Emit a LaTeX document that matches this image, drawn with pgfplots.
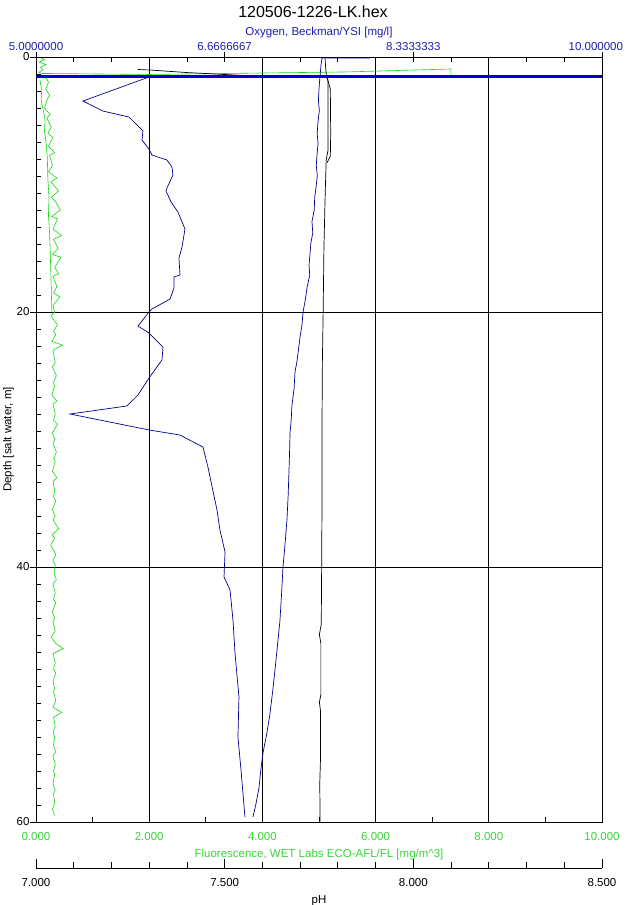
\documentclass[border=0pt]{standalone}
\usepackage{pgfplots}
\pgfplotsset{compat=1.18}
\usepackage{fontspec}
\setmainfont{Liberation Sans}
\definecolor{navy}{RGB}{0,0,140}
\definecolor{tblue}{RGB}{0,0,210}
\definecolor{trgreen}{RGB}{20,215,20}
\definecolor{lbgreen}{RGB}{60,210,60}
\definecolor{lbblue}{RGB}{30,30,170}
\begin{document}
\begin{tikzpicture}
\path[use as bounding box] (0,0) rectangle (626pt,905pt);
\pgfplotsset{every axis/.append style={font=\fontsize{11.5}{13}\selectfont}}
% ---------- main axis: fluorescence + depth ----------
\begin{axis}[
  at={(36pt,83pt)}, anchor=south west, scale only axis,
  width=566pt, height=765pt,
  xmin=0, xmax=10, ymin=0, ymax=60, y dir=reverse,
  xtick pos=bottom, ytick pos=left,
  xtick={0,2,4,6,8,10},
  xticklabels={0.000,2.000,4.000,6.000,8.000,10.000},
  minor x tick num=1,
  ytick={0,20,40,60}, yticklabels={0,20,40,60},
  minor y tick num=14,
  tick align=inside, major tick length=6pt, minor tick length=5pt,
  every major y tick/.append style={xshift=-6pt},
  grid=major, grid style={black, line width=0.8pt},
  axis line style={black, line width=0.8pt},
  tick style={black, line width=0.8pt},
  xticklabel style={text=lbgreen, yshift=-7pt},
  xlabel={Fluorescence, WET Labs ECO-AFL/FL [mg/m\textasciicircum3]},
  xlabel style={text=lbgreen, yshift=-2pt},
  yticklabel style={xshift=-3pt},
  ylabel={Depth [salt water, m]},
  ylabel style={yshift=-4pt},
  clip=true,
]
% fluorescence near surface and spike
\addplot[trgreen, line width=0.6pt] coordinates {
(0.04,0.0)(0.15,0.2)(0.06,0.4)(0.18,0.6)(0.08,0.8)(0.12,1.0)(0.05,1.2)(0.10,1.29)
(2.0,1.37)(5.5,1.17)(7.33,0.94)(7.33,1.53)(0.15,1.57)};
% fluorescence smooth trace
\addplot[trgreen, line width=0.6pt] coordinates {
(0.07,1.8)(0.10,2.6)(0.09,3.4)(0.13,4.2)(0.16,4.9)(0.15,5.8)(0.18,6.8)(0.20,7.9)
(0.21,9.6)(0.23,11.0)(0.22,12.4)(0.24,13.8)(0.25,15.1)(0.26,16.6)(0.27,18.2)(0.28,20.0)};
% fluorescence noisy trace
\addplot[trgreen, line width=0.6pt] coordinates {
(0.18,1.6)(0.22,2.0)(0.17,2.5)(0.24,3.0)(0.20,3.3)(0.15,4.0)(0.25,4.5)(0.19,4.8)
(0.27,5.5)(0.21,6.0)(0.30,6.3)(0.22,7.0)(0.33,7.5)(0.24,7.7)(0.29,8.5)(0.22,9.0)
(0.37,9.5)(0.26,9.8)(0.40,10.5)(0.27,11.0)(0.34,11.3)(0.43,12.0)(0.28,12.5)(0.38,12.7)
(0.30,13.5)(0.45,14.0)(0.31,14.3)(0.39,15.0)(0.29,15.5)(0.44,15.7)(0.33,16.5)(0.40,17.0)
(0.30,17.2)(0.37,18.0)(0.31,18.5)(0.42,18.8)(0.30,19.5)(0.33,20.0)(0.26,20.3)(0.38,21.0)
(0.31,21.5)(0.35,21.8)(0.28,22.3)(0.47,22.6)(0.30,23.0)(0.34,24.0)(0.29,24.3)(0.36,25.0)
(0.31,25.5)(0.33,25.8)(0.28,26.5)(0.37,27.0)(0.30,27.2)(0.34,28.0)(0.31,28.5)(0.38,28.8)
(0.29,29.5)(0.33,30.0)(0.30,30.3)(0.36,31.0)(0.31,31.5)(0.34,31.7)(0.29,32.5)(0.37,33.0)
(0.30,33.3)(0.33,34.0)(0.31,34.5)(0.35,34.8)(0.29,35.5)(0.34,36.0)(0.30,36.3)(0.40,37.0)
(0.28,37.5)(0.33,37.7)(0.26,38.3)(0.35,39.0)(0.30,39.5)(0.34,39.8)(0.32,40.5)(0.36,41.0)
(0.30,41.3)(0.34,42.0)(0.31,42.5)(0.35,42.8)(0.29,43.5)(0.33,44.0)(0.30,44.3)(0.34,45.0)
(0.27,45.5)(0.35,46.0)(0.48,46.4)(0.30,46.8)(0.34,47.5)(0.31,48.0)(0.35,48.3)(0.30,49.0)
(0.33,49.5)(0.31,49.8)(0.35,50.5)(0.30,51.0)(0.45,51.4)(0.31,51.8)(0.34,52.5)(0.30,53.0)
(0.33,53.3)(0.31,54.0)(0.35,54.5)(0.30,54.8)(0.34,55.5)(0.31,56.0)(0.33,56.3)(0.30,57.0)
(0.34,57.5)(0.31,57.8)(0.33,58.5)(0.29,59.0)(0.33,59.5)};
\end{axis}
% ---------- pH data (hidden axes) ----------
\begin{axis}[
  at={(36pt,83pt)}, anchor=south west, scale only axis,
  width=566pt, height=765pt,
  xmin=7, xmax=8.5, ymin=0, ymax=60, y dir=reverse,
  hide x axis, hide y axis,
]
\addplot[black, line width=0.7pt] coordinates {
(7.270,0.98)(7.302,1.02)(7.400,1.22)(7.551,1.45)(7.769,1.53)(7.774,1.8)(7.774,4.94)
(7.774,7.29)(7.769,8.08)(7.766,11.2)(7.763,15.1)(7.761,20.0)(7.759,23.8)(7.758,28.5)
(7.758,34.7)(7.757,40.0)(7.756,44.5)(7.751,45.3)(7.755,46.0)(7.755,50.0)(7.751,50.6)
(7.754,51.3)(7.754,55.0)(7.752,57.0)(7.753,60.0)};
\addplot[black, line width=0.7pt] coordinates {
(7.766,0.1)(7.768,1.0)(7.770,1.5)(7.780,2.5)(7.781,6.0)(7.780,7.8)(7.771,8.3)};
\end{axis}
% ---------- oxygen (top axis) ----------
\begin{axis}[
  at={(36pt,83pt)}, anchor=south west, scale only axis,
  width=566pt, height=765pt,
  xmin=5, xmax=10, ymin=0, ymax=60, y dir=reverse,
  axis x line*=top, hide y axis,
  xtick={5,6.6666667,8.3333333,10},
  xticklabels={5.0000000,6.6666667,8.3333333,\makebox[42pt][r]{10.000000}},
  minor x tick num=4,
  tick align=inside, major tick length=10pt, minor tick length=5pt,
  every major x tick/.append style={yshift=5pt},
  axis line style={black, line width=0.8pt},
  tick style={black, line width=0.8pt},
  xticklabel style={text=lbblue, yshift=3pt},
  xlabel={Oxygen, Beckman/YSI [mg/l]},
  xlabel style={text=lbblue, yshift=-2pt},
]
\addplot[tblue, line width=2.6pt] coordinates {(5,1.52)(10,1.52)};
\addplot[navy, line width=0.7pt] coordinates {
(5.998,1.57)(5.415,3.45)(5.592,4.24)(5.822,4.71)(5.945,5.80)(5.936,6.51)(5.998,7.22)
(6.025,7.69)(6.157,8.08)(6.201,8.63)(6.210,9.25)(6.157,10.27)(6.148,10.51)(6.193,11.37)
(6.254,12.16)(6.316,13.49)(6.290,14.90)(6.263,15.76)(6.272,17.10)(6.219,17.25)(6.219,18.12)
(6.184,18.98)(6.025,19.76)(5.998,20.0)(5.901,21.10)(5.998,21.65)(6.122,22.75)(6.113,23.76)
(5.998,25.18)(5.901,26.51)(5.804,27.37)(5.300,28.0)(5.998,29.25)(6.272,29.65)(6.475,30.59)
(6.519,32.16)(6.599,35.53)(6.625,37.10)(6.670,38.82)(6.661,40.78)(6.714,41.80)(6.740,44.16)
(6.758,46.75)(6.793,50.20)(6.784,53.33)(6.811,55.92)(6.846,59.61)};
\addplot[navy, line width=0.7pt] coordinates {
(7.951,0.08)(7.527,0.08)(7.518,0.6)(7.509,1.5)(7.500,2.5)(7.495,3.4)(7.503,4.2)(7.491,5.1)
(7.484,6.0)(7.492,6.8)(7.482,7.7)(7.476,8.5)(7.485,9.3)(7.473,10.3)(7.462,11.0)(7.458,12.0)
(7.438,12.9)(7.445,13.8)(7.428,14.6)(7.420,15.5)(7.412,16.3)(7.418,17.1)(7.394,18.1)
(7.380,19.0)(7.359,20.0)(7.350,21.0)(7.332,22.0)(7.318,23.0)(7.305,23.9)(7.288,24.7)
(7.280,26.0)(7.261,27.3)(7.255,28.4)(7.244,29.5)(7.240,31.0)(7.235,32.4)(7.228,34.3)
(7.217,36.3)(7.200,38.2)(7.182,40.0)(7.170,42.0)(7.155,44.2)(7.135,46.0)(7.111,48.1)
(7.090,49.8)(7.067,51.5)(7.040,53.0)(7.005,54.6)(6.985,56.0)(6.970,57.3)(6.945,58.5)
(6.917,59.6)};
\end{axis}
% ---------- pH scale ----------
\begin{axis}[
  at={(36pt,37pt)}, anchor=south west, scale only axis,
  width=566pt, height=10pt,
  xmin=7, xmax=8.5, ymin=0, ymax=1,
  axis x line*=bottom, hide y axis,
  xtick={7,7.5,8,8.5},
  xticklabels={7.000,7.500,8.000,8.500},
  minor x tick num=4,
  tick align=inside, major tick length=9pt, minor tick length=6pt,
  axis line style={black, line width=0.8pt, -},
  tick style={black, line width=0.8pt},
  xticklabel style={yshift=-7pt},
  xlabel={pH},
  xlabel style={yshift=-2pt},
]
\end{axis}
\node[font=\fontsize{16}{18}\selectfont] at (313pt,893pt) {120506-1226-LK.hex};
\end{tikzpicture}
\end{document}
